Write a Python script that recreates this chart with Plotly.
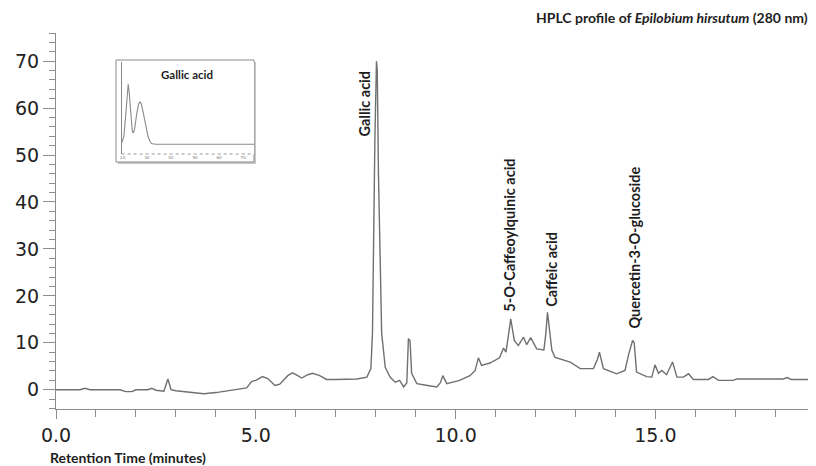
import plotly.graph_objects as go

# Main chromatogram (retention time in minutes, absorbance mAU)
time_min = [0.0, 0.6, 0.73, 0.85, 1.6, 1.75, 1.9, 2.0, 2.3, 2.4, 2.5, 2.7, 2.8, 2.88, 3.0, 3.3, 3.7, 4.0,
            4.36, 4.77, 4.9, 5.0, 5.17, 5.3, 5.48, 5.6, 5.8, 5.92, 6.05, 6.15, 6.3, 6.42, 6.6, 6.77, 7.0,
            7.53, 7.78, 7.88, 7.92, 7.94, 7.98, 8.02, 8.04, 8.07, 8.11, 8.15, 8.24, 8.36, 8.49, 8.6, 8.7,
            8.78, 8.82, 8.86, 8.9, 9.03, 9.3, 9.53, 9.62, 9.68, 9.78, 10.1, 10.36, 10.49, 10.57, 10.65,
            10.86, 11.1, 11.2, 11.26, 11.33, 11.38, 11.47, 11.57, 11.7, 11.78, 11.88, 12.03, 12.21, 12.26,
            12.3, 12.35, 12.41, 12.49, 12.62, 12.87, 13.12, 13.45, 13.55, 13.6, 13.7, 14.03, 14.24, 14.33,
            14.43, 14.47, 14.53, 14.78, 14.91, 14.99, 15.08, 15.16, 15.28, 15.43, 15.54, 15.7, 15.83,
            15.95, 16.33, 16.44, 16.58, 16.95, 17.04, 18.2, 18.3, 18.4, 19.02]
absorbance = [0.0, 0.0, 0.3, 0.0, 0.0, -0.4, -0.4, 0.0, 0.0, 0.3, -0.1, -0.3, 2.3, 0.0, -0.2, -0.5, -0.85, -0.6,
              -0.15, 0.4, 1.8, 2.0, 2.8, 2.4, 0.9, 1.2, 3.0, 3.6, 3.0, 2.5, 3.2, 3.5, 3.0, 2.2, 2.2,
              2.3, 2.7, 4.5, 12.0, 30.4, 53.0, 70.0, 68.0, 46.0, 24.8, 12.0, 4.8, 2.7, 1.6, 2.0, 0.6,
              1.5, 10.9, 10.5, 3.5, 1.3, 0.9, 0.6, 1.5, 3.0, 1.3, 2.0, 3.0, 4.1, 6.8, 5.2,
              5.7, 6.8, 8.9, 8.0, 12.0, 15.1, 10.5, 9.4, 11.2, 9.6, 11.1, 8.7, 8.5, 12.0,
              16.5, 12.5, 8.4, 6.9, 6.6, 5.9, 4.5, 4.5, 6.5, 8.0, 4.5, 3.4, 4.1, 7.5,
              10.5, 10.0, 3.75, 2.8, 2.7, 5.3, 3.5, 4.1, 3.2, 5.9, 2.7, 2.7, 3.4,
              2.2, 2.2, 2.8, 2.0, 2.0, 2.3, 2.3, 2.6, 2.2, 2.2]

# Peak labels
peak_names = ["Gallic acid", "5-O-Caffeoylquinic acid", "Caffeic acid", "Quercetin-3-O-glucoside"]
peak_label_t = [7.73, 11.36, 12.38, 14.49]
peak_label_v = [53.5, 16.3, 17.3, 12.6]

# Inset (Gallic acid spectrum)
inset_x = [19.6, 20.5, 21.3, 22.0, 22.3, 22.7, 23.4, 24.0, 24.4, 25.0, 25.8, 26.6, 27.2, 27.8, 28.6, 29.5, 30.5, 31.3, 32.0, 33.5, 74.5]
inset_y = [1.3, 8.0, 30.0, 55.0, 60.3, 52.0, 25.0, 13.0, 11.3, 16.0, 30.0, 40.0, 42.6, 40.0, 31.0, 19.0, 8.0, 3.0, 0.8, 0.0, 0.0]
inset_ticks = [20, 30, 40, 50, 60, 70]

x_major = [0, 5, 10, 15]
y_major = [0, 10, 20, 30, 40, 50, 60, 70]

# The page body has an 8px margin; compensate so the plot sits where the reference has it.
OFF = 8
fig = go.Figure()
fig.add_trace(go.Scatter(x=time_min, y=absorbance, mode="lines",
                         line=dict(color="#707070", width=1.4), showlegend=False,
                         xaxis="x", yaxis="y"))
fig.add_trace(go.Scatter(x=inset_x, y=inset_y, mode="lines",
                         line=dict(color="#8a8a8a", width=1.1), showlegend=False,
                         xaxis="x2", yaxis="y2"))

axis_col = "#8c8c8c"
tick_font = dict(family="DejaVu Sans", size=19, color="#222222")

def xp(px):
    return (px - 56) / 760.0

def yp(py):
    return (409 - py) / 376.0

fig.update_layout(
    width=816 - OFF, height=466 - OFF,
    margin=dict(l=56 - OFF, r=0, t=33 - OFF, b=57),
    paper_bgcolor="white", plot_bgcolor="white",
    xaxis=dict(range=[0, 19.02], tickvals=x_major, tickformat=".1f", ticks="outside", ticklen=9,
               tickcolor=axis_col, showline=True, linecolor=axis_col, linewidth=1.2,
               showgrid=False, zeroline=False, tickfont=tick_font,
               minor=dict(dtick=1, ticks="outside", ticklen=7, tickcolor=axis_col)),
    yaxis=dict(range=[-4.1, 76], tickvals=y_major, ticks="outside", ticklen=12,
               tickcolor=axis_col, showline=True, linecolor=axis_col, linewidth=1.2,
               showgrid=False, zeroline=False, tickfont=tick_font,
               minor=dict(dtick=2, ticks="outside", ticklen=6, tickcolor=axis_col)),
    xaxis2=dict(domain=[xp(121.7), xp(254)], range=[19.6, 74.5], anchor="y2",
                tickvals=inset_ticks, ticks="", showline=False, showgrid=False, zeroline=False,
                tickfont=dict(family="DejaVu Sans", size=4, color="#777777")),
    yaxis2=dict(domain=[yp(154), yp(62)], range=[-9.7, 82.3], anchor="x2",
                showticklabels=False, ticks="", showline=True, linecolor="#888888", linewidth=1,
                showgrid=False, zeroline=False),
    shapes=[
        dict(type="rect", xref="paper", yref="paper", x0=xp(118), x1=xp(256), y0=yp(164), y1=yp(62),
             line=dict(width=0), fillcolor="#c8c8c8", layer="below"),
        dict(type="rect", xref="paper", yref="paper", x0=xp(116), x1=xp(254), y0=yp(162), y1=yp(60),
             line=dict(color="#8a8a8a", width=1), fillcolor="white", layer="below"),
        dict(type="line", xref="paper", yref="paper", x0=xp(121.7), x1=xp(253), y0=yp(154), y1=yp(154),
             line=dict(color="#999999", width=1, dash="dot")),
    ],
)

annotations = []
for name, t, v in zip(peak_names, peak_label_t, peak_label_v):
    annotations.append(dict(x=t, y=v, xref="x", yref="y", text="<b>" + name + "</b>", showarrow=False,
                            textangle=-90, xanchor="center", yanchor="bottom",
                            font=dict(family="Lato", size=14.5, color="#1e1e1e")))
annotations.append(dict(x=xp(810), y=yp(17.3), xref="paper", yref="paper",
                        text="<b>HPLC profile of <i>Epilobium hirsutum</i> (280 nm)</b>",
                        showarrow=False, xanchor="right", yanchor="middle",
                        font=dict(family="Lato", size=14, color="#1e1e1e")))
annotations.append(dict(x=xp(48), y=yp(457), xref="paper", yref="paper",
                        text="<b>Retention Time (minutes)</b>", showarrow=False,
                        xanchor="left", yanchor="middle",
                        font=dict(family="Lato", size=14, color="#1e1e1e")))
annotations.append(dict(x=xp(187), y=yp(75), xref="paper", yref="paper",
                        text="<b>Gallic acid</b>", showarrow=False,
                        xanchor="center", yanchor="middle",
                        font=dict(family="Lato", size=11.5, color="#1e1e1e")))
fig.update_layout(annotations=annotations)

fig.write_html("out.html")
